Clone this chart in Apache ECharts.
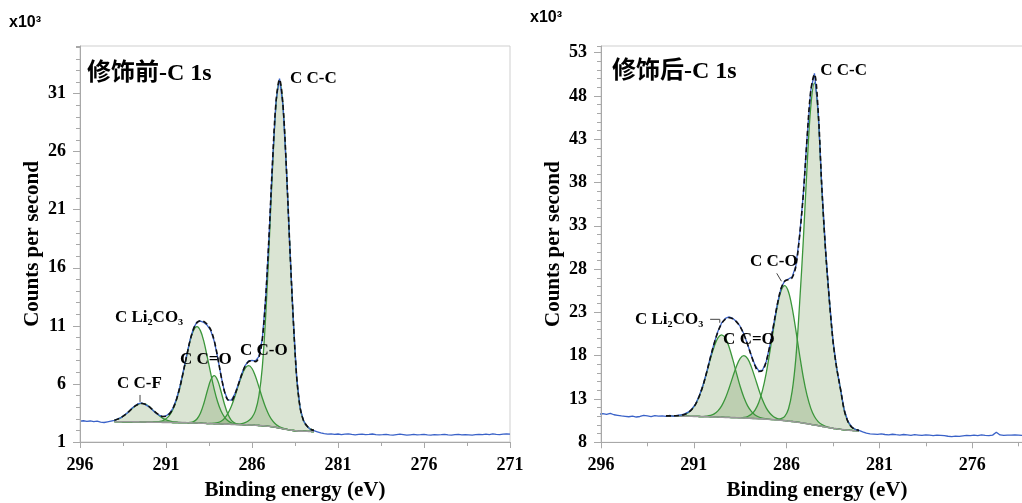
<!DOCTYPE html>
<html><head><meta charset="utf-8">
<script src="https://cdn.jsdelivr.net/npm/echarts@6/dist/echarts.min.js"></script>
<style>html,body{margin:0;padding:0;background:#fff}#c{width:1022px;height:503px}</style>
</head><body><div id="c"></div>
<script>
// ---------- energy sampling grids (eV) ----------
function energyGrid(start, n){ const a=[]; for(let i=0;i<n;i++) a.push(Math.round((start-0.2*i)*10)/10); return a; }
const xFitL = energyGrid(294.0, 59);   // 294.0 -> 282.4
const xRawL = energyGrid(296.0, 126);  // 296.0 -> 271.0
const xFitR = energyGrid(292.5, 53);   // 292.5 -> 282.1
const xRawR = energyGrid(296.1, 125);  // 296.1 -> 271.3

// ---------- left panel (修饰前), counts x10^3 ----------
const bgL = [2.75,2.75,2.75,2.74,2.74,2.74,2.73,2.73,2.72,2.72,
 2.71,2.71,2.70,2.70,2.69,2.69,2.69,2.68,2.68,2.67,
 2.67,2.66,2.65,2.64,2.63,2.62,2.61,2.59,2.58,2.57,
 2.56,2.55,2.54,2.53,2.52,2.51,2.50,2.49,2.48,2.47,
 2.46,2.44,2.42,2.40,2.38,2.35,2.31,2.26,2.20,2.14,
 2.08,2.03,1.99,1.96,1.94,1.93,1.92,1.91,1.90];
const cfL = [0.12,0.22,0.37,0.58,0.83,1.10,1.36,1.54,1.60,1.54,
 1.36,1.10,0.83,0.58,0.37,0.22,0.12,0.06,0.03,0.01,
 0,0,0,0,0,0,0,0,0,0, 0,0,0,0,0,0,0,0,0,0, 0,0,0,0,0,0,0,0,0,0, 0,0,0,0,0,0,0,0,0];
const liL = [0,0,0,0,0,0,0,0,0,0,0,0,
 0.02,0.06,0.14,0.31,0.61,1.12,1.91,2.99,
 4.32,5.73,7.06,7.97,8.30,7.97,7.06,5.73,4.32,2.99,
 1.91,1.12,0.61,0.31,0.14,0.06,0.02,
 0,0,0,0,0,0,0,0,0,0,0,0,0,0,0,0,0,0,0,0,0,0];
const coL = [0,0,0,0,0,0,0,0,0,0,0,0,0,0,0,0,0,0,0,0,0,0,
 0.03,0.12,0.35,0.85,1.71,2.80,3.76,4.15,
 3.76,2.80,1.71,0.85,0.35,0.12,0.03,
 0,0,0,0,0,0,0,0,0,0,0,0,0,0,0,0,0,0,0,0,0,0];
const c_oL = [0,0,0,0,0,0,0,0,0,0,0,0,0,0,0,0,0,0,0,0,0,0,0,0,0,0,0,0,
 0.02,0.05,0.11,0.24,0.50,0.93,1.56,2.39,3.33,4.22,4.87,5.10,
 4.87,4.22,3.33,2.39,1.56,0.93,0.50,0.24,0.11,0.05,0.02,
 0,0,0,0,0,0,0,0];
const ccL = [0,0,0,0,0,0,0,0,0,0,0,0,0,0,0,0,0,0,0,0,0,0,0,0,0,0,0,0,0,0,0,0,0,0,0,0,
 0.04,0.09,0.18,0.36,0.66,1.26,2.54,5.05,9.57,15.76,22.48,27.84,
 29.90,27.84,22.48,15.76,9.57,4.60,2.00,0.90,0.45,0.20,0.10];
const envL = [2.87,2.97,3.12,3.32,3.57,3.84,4.09,4.27,4.32,4.26,
 4.07,3.81,3.55,3.34,3.20,3.22,3.42,3.86,4.62,5.67,
 6.99,8.39,9.74,10.73,11.28,11.44,11.38,11.12,10.68,9.76,
 8.34,6.71,5.36,4.62,4.57,5.08,5.92,6.80,7.53,7.93,
 7.99,7.92,8.29,9.84,13.51,19.04,25.29,30.34,32.21,30.03,
 24.58,17.79,11.56,6.56,3.94,2.83,2.37,2.11,2.00];
const rawL = [2.80,2.83,2.78,2.81,2.76,2.79,2.72,2.68,2.74,2.80,
 2.86,2.99,3.10,3.35,3.55,3.88,4.12,4.30,4.36,4.22,
 4.05,3.78,3.50,3.31,3.18,3.24,3.47,3.90,4.66,5.72,
 7.05,8.45,9.80,10.80,11.32,11.40,11.30,11.05,10.60,9.70,
 8.30,6.70,5.32,4.62,4.60,5.12,5.95,6.85,7.58,7.98,
 8.02,7.98,8.35,9.90,13.5,19.0,25.3,30.4,32.3,30.0,
 24.5,17.7,11.5,6.5,3.9,2.82,2.35,2.08,1.98,1.88,
 1.78,1.72,1.68,1.70,1.66,1.69,1.64,1.67,1.70,1.65,
 1.62,1.66,1.68,1.63,1.65,1.69,1.64,1.61,1.63,1.66,
 1.62,1.60,1.64,1.67,1.63,1.59,1.62,1.65,1.61,1.63,
 1.66,1.62,1.60,1.64,1.61,1.63,1.66,1.62,1.60,1.63,
 1.65,1.61,1.64,1.62,1.60,1.63,1.66,1.64,1.67,1.63,
 1.70,1.66,1.64,1.68,1.70,1.67];

// ---------- right panel (修饰后), counts x10^3 ----------
const bgR = [11.05,11.04,11.04,11.03,11.03,11.02,11.01,11.00,10.99,10.98,
 10.97,10.96,10.95,10.93,10.92,10.90,10.88,10.87,10.85,10.84,
 10.82,10.80,10.78,10.76,10.74,10.72,10.70,10.67,10.64,10.61,
 10.58,10.54,10.50,10.45,10.40,10.35,10.29,10.22,10.15,10.08,
 10.00,9.92,9.85,9.77,9.70,9.62,9.56,9.50,9.45,9.41,
 9.37,9.34,9.32];
const liR = [0,0.01,0.02,0.04,0.09,0.20,0.42,0.81,1.43,2.37,
 3.62,5.12,6.72,8.14,9.14,9.50,9.14,8.14,6.72,5.12,
 3.62,2.37,1.43,0.81,0.42,0.20,0.09,0.04,
 0,0,0,0,0,0,0,0,0,0,0,0,0,0,0,0,0,0,0,0,0,0,0,0,0];
const coR = [0,0,0,0,0,0,0,0,0,0,0,
 0.06,0.16,0.35,0.71,1.31,2.20,3.38,4.70,5.95,6.87,7.20,
 6.87,5.95,4.70,3.38,2.20,1.31,0.71,0.35,0.16,0.06,
 0,0,0,0,0,0,0,0,0,0,0,0,0,0,0,0,0,0,0,0,0];
const c_oR = [0,0,0,0,0,0,0,0,0,0,0,0,0,0,0,0,0,0,0,0,
 0.03,0.08,0.20,0.47,0.98,1.87,3.29,5.29,7.82,10.58,13.12,14.94,15.60,
 14.94,13.12,10.58,7.82,5.29,3.29,1.87,0.98,0.47,0.20,0.08,0.03,
 0,0,0,0,0,0,0,0];
const ccR = [0,0,0,0,0,0,0,0,0,0,0,0,0,0,0,0,0,0,0,0,0,0,0,0,0,0,0,0,0,0,
 0.05,0.20,0.50,1.40,3.50,7.40,13.70,21.10,29.60,36.60,
 39.50,35.90,27.30,20.30,14.80,10.10,7.00,4.70,2.30,1.00,0.40,0.15,0.05];
const envR = [11.05,11.05,11.06,11.07,11.12,11.22,11.43,11.81,12.42,13.35,
 14.59,16.14,17.83,19.42,20.77,21.71,22.22,22.39,22.27,21.91,
 21.34,20.45,19.28,17.99,16.84,16.17,16.28,17.31,19.17,21.54,
 23.91,25.74,26.60,26.79,27.02,28.33,31.81,36.61,43.04,48.55,
 50.48,46.29,37.35,30.15,24.53,19.72,16.56,14.20,11.75,10.41,
 9.77,9.49,9.37];
const rawR = [11.25,11.30,11.22,11.35,11.18,11.12,11.05,11.00,10.95,11.02,
 10.92,10.98,11.10,11.04,10.96,11.08,11.02,11.06,
 11.00,11.10,10.98,11.12,11.15,11.28,11.48,11.85,12.45,13.40,
 14.62,16.15,17.88,19.48,20.82,21.78,22.30,22.48,22.30,21.95,
 21.38,20.50,19.30,18.02,16.90,16.25,16.32,17.30,19.20,21.55,
 23.95,25.80,26.65,26.85,27.10,28.40,31.85,36.65,43.10,48.60,
 50.60,46.30,37.40,30.20,24.50,19.70,16.55,14.20,11.80,10.45,
 9.80,9.50,9.38,
 9.20,9.05,8.98,8.95,8.92,8.97,8.90,8.86,8.93,8.88,
 8.84,8.90,8.86,8.81,8.88,8.84,8.79,8.86,8.82,8.78,
 8.84,8.80,8.76,8.70,8.66,8.72,8.68,8.74,8.80,8.76,
 8.82,8.78,8.85,8.80,8.76,8.83,9.15,8.85,8.80,8.84,
 8.82,8.86,8.83,8.80,8.87,8.84,8.90,8.86,8.92,8.88,
 8.84,8.90,8.94,8.92];

// ---------- text ----------
const titles = ['修饰前-C 1s', '修饰后-C 1s'];
const xName = 'Binding energy (eV)';
const yName = 'Counts per second';
const unitText = 'x10³';
const labelsL = [
  {t:'C C-C', x:283.79, y:32.3}, {t:'C Li₂CO₃', x:293.97, y:11.7},
  {t:'C C=O', x:290.19, y:8.07}, {t:'C C-O', x:286.70, y:8.84}, {t:'C C-F', x:293.85, y:6.0}];
const leadersL = [[[292.51,5.05],[292.51,4.45]]];
const labelsR = [
  {t:'C C-C', x:284.19, y:50.87}, {t:'C C-O', x:287.97, y:28.85},
  {t:'C Li₂CO₃', x:294.17, y:22.12}, {t:'C C=O', x:289.42, y:19.81}];
const leadersR = [[[286.53,27.51],[286.28,26.6]], [[290.12,22.2],[289.6,22.2],[289.6,21.8]]];

// ---------- styles ----------
const SERIF = "'Liberation Serif','Times New Roman',serif";
const GREEN = '#3b963b';
const FILL = 'rgba(88,132,56,0.32)';
const AXIS = '#a8a8a8';

// points are given as [value, energy] so that the stacked dimension is the value (y)
function pairsYX(xs, ys){ return xs.map((x,i)=>[ys[i], x]); }
function pairs(xs, ys){ return xs.map((x,i)=>[x, ys[i]]); }

function panelSeries(g, xFit, bg, comps, env, xRaw, raw){
  const s = [];
  const yi = g*2;
  comps.forEach((c,k)=>{
    const st = 'p'+g+'c'+k;
    s.push({type:'line', xAxisIndex:g, yAxisIndex:yi, stack:st, data:pairsYX(xFit,bg), encode:{x:1, y:0},
      smooth:0.35, symbol:'none', lineStyle:{width:0, opacity:0}, silent:true, z:2});
    s.push({type:'line', xAxisIndex:g, yAxisIndex:yi, stack:st, data:pairsYX(xFit,c), encode:{x:1, y:0},
      smooth:0.35, symbol:'none', lineStyle:{color:GREEN, width:1.3}, areaStyle:{color:FILL}, silent:true, z:2});
  });
  s.push({type:'line', xAxisIndex:g, yAxisIndex:yi, data:pairs(xFit,bg), smooth:0.35, symbol:'none',
    lineStyle:{color:'#9a9a9a', width:1.6}, silent:true, z:3});
  s.push({type:'line', xAxisIndex:g, yAxisIndex:yi, data:pairs(xRaw,raw), symbol:'none',
    lineStyle:{color:'#3a62c8', width:1.3}, silent:true, z:4});
  s.push({type:'line', xAxisIndex:g, yAxisIndex:yi, data:pairs(xFit,env), smooth:0.35, symbol:'none',
    lineStyle:{color:'#111', width:1.6, type:[5,3]}, silent:true, z:5});
  return s;
}

const lbl = {fontFamily:SERIF, fontWeight:'bold', fontSize:18, color:'#000'};
const nameStyle = {fontFamily:SERIF, fontWeight:'bold', fontSize:21, color:'#000'};

function xAx(g, pad){
  return {type:'value', gridIndex:g, min:271, max:296, interval:5, inverse:true, z:10,
    axisLine:{show:true, onZero:false, lineStyle:{color:AXIS, width:1}},
    axisTick:{show:true, length:6, lineStyle:{color:AXIS}},
    minorTick:{show:true, splitNumber:2, length:4, lineStyle:{color:AXIS}},
    axisLabel:{...lbl, margin:14, showMaxLabel:true, showMinLabel:true},
    splitLine:{show:false},
    name:xName, nameLocation:'middle', nameGap:38, nameTextStyle:{...nameStyle, padding:pad}};
}
function yAxMain(g, min, max){
  return {type:'value', gridIndex:g, min:min, max:max, interval:5, z:10,
    axisLine:{show:true, onZero:false, lineStyle:{color:AXIS, width:1}},
    axisTick:{show:true, length:7, lineStyle:{color:AXIS}},
    axisLabel:{...lbl, margin:14, showMaxLabel:false},
    splitLine:{show:false},
    name:yName, nameLocation:'middle', nameGap:37, nameRotate:90, nameTextStyle:nameStyle};
}
function yAxMinor(g, min, max){
  return {type:'value', gridIndex:g, min:min, max:max, interval:1, position:'left', offset:0,
    axisLine:{show:false}, axisTick:{show:true, length:4, lineStyle:{color:AXIS}},
    axisLabel:{show:false}, splitLine:{show:false}};
}

const chart = echarts.init(document.getElementById('c'), null, {renderer:'canvas', width:1022, height:503});
chart.setOption({
  animation:false,
  backgroundColor:'#fff',
  grid:[
    {left:80, top:46, width:430, height:396, show:true, borderColor:'#cfcfcf', borderWidth:1,
     backgroundColor:'transparent', containLabel:false, outerBoundsMode:'none'},
    {left:601, top:46, width:464, height:396.3, show:true, borderColor:'#cfcfcf', borderWidth:1,
     backgroundColor:'transparent', containLabel:false, outerBoundsMode:'none'}
  ],
  xAxis:[xAx(0, [0,0,0,0]), xAx(1, [0,32,0,0])],
  yAxis:[yAxMain(0,1,35.1), yAxMinor(0,1,35.1), yAxMain(1,8,53.76), yAxMinor(1,8,53.76)],
  series:[].concat(
    panelSeries(0, xFitL, bgL, [cfL, liL, coL, c_oL, ccL], envL, xRawL, rawL),
    panelSeries(1, xFitR, bgR, [liR, coR, c_oR, ccR], envR, xRawR, rawR)
  )
});

// ---------- annotations ----------
const g = [];
function addText(t, x, y, size, family, weight){
  g.push({type:'text', x:x, y:y, z:50, style:{text:t, fontSize:size, fontFamily:family, fontWeight:weight,
    fill:'#000', align:'left', verticalAlign:'middle'}});
}
addText(titles[0], 87, 74, 24, "'Liberation Serif','Noto Sans CJK SC',serif", 'bold');
addText(titles[1], 612, 72, 24, "'Liberation Serif','Noto Sans CJK SC',serif", 'bold');
addText(unitText, 9, 23, 16, "'Liberation Sans',Arial,sans-serif", 'bold');
addText(unitText, 530, 18, 16, "'Liberation Sans',Arial,sans-serif", 'bold');
function addLabels(gi, labels, leaders){
  labels.forEach(l=>{
    const p = chart.convertToPixel({xAxisIndex:gi, yAxisIndex:gi*2}, [l.x, l.y]);
    addText(l.t, p[0], p[1], 17, SERIF, 'bold');
  });
  leaders.forEach(ld=>{
    const pts = ld.map(q=>chart.convertToPixel({xAxisIndex:gi, yAxisIndex:gi*2}, q));
    g.push({type:'polyline', z:50, shape:{points:pts}, style:{stroke:'#444', lineWidth:1, fill:null}});
  });
}
addLabels(0, labelsL, leadersL);
addLabels(1, labelsR, leadersR);
chart.setOption({graphic:g});
</script></body></html>
